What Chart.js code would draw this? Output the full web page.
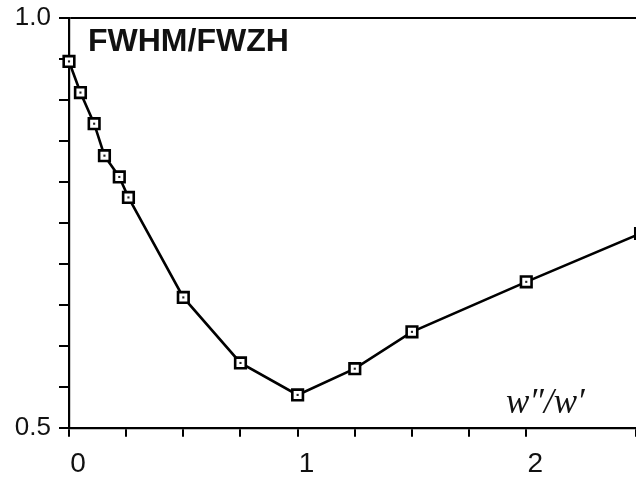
<!DOCTYPE html>
<html lang="en">
<head>
  <meta charset="UTF-8">
  <title>FWHM/FWZH vs w''/w'</title>
  <script src="https://cdn.jsdelivr.net/npm/chart.js"></script>
  <style>
    html, body { margin: 0; padding: 0; background: #fff; }
    #wrap { width: 636px; height: 479px; position: relative; }
  </style>
</head>
<body>
<div id="wrap">
  <canvas id="fwhmChart"></canvas>
</div>

<script>
  // values
  const ratioX = [0, 0.05, 0.11, 0.155, 0.22, 0.26, 0.5, 0.75, 1.0, 1.25, 1.5, 2.0, 2.5];
  const fwhmY = [0.947, 0.909, 0.871, 0.832, 0.806, 0.781, 0.659, 0.579, 0.540, 0.572, 0.617, 0.678, 0.737];
  const xLabelTicks = [0, 1, 2];
  const yLabelTicks = [0.5, 1.0];

  const points = ratioX.map((x, i) => ({ x: x, y: fwhmY[i] }));

  // text labels drawn inside the plot
  const textLabels = {
    id: 'textLabels',
    afterDraw(chart) {
      const c = chart.ctx;
      const area = chart.chartArea;
      c.save();
      c.fillStyle = '#111';
      c.textBaseline = 'alphabetic';
      c.textAlign = 'left';
      c.font = 'bold 32px "Liberation Sans", Arial, sans-serif';
      c.fillText('FWHM/FWZH', area.left + 19, area.top + 33);
      c.font = 'italic 35px "Liberation Serif", "Times New Roman", serif';
      c.fillText('w\u2033/w\u2032', 506, area.bottom - 15);
      c.restore();
    }
  };

  const ctx = document.getElementById('fwhmChart').getContext('2d');
  const fwhmChart = new Chart(ctx, {
    type: 'scatter',
    data: {
      datasets: [{
        label: 'FWHM/FWZH',
        data: points,
        order: 2,
        showLine: true,
        borderColor: '#000',
        borderWidth: 2.6,
        pointStyle: 'rect',
        pointRadius: 7.5,
        pointBorderWidth: 2.6,
        pointBorderColor: '#000',
        pointBackgroundColor: '#fff',
        clip: false
      }, {
        // small dot in the middle of every square marker
        label: 'centres',
        data: points,
        order: 1,
        showLine: false,
        pointStyle: 'rect',
        pointRadius: 1.5,
        pointBorderWidth: 0,
        pointBackgroundColor: '#222',
        clip: false
      }]
    },
    options: {
      responsive: true,
      maintainAspectRatio: false,
      animation: false,
      layout: { autoPadding: false, padding: { top: 18, right: 0, left: 0, bottom: 0 } },
      plugins: {
        legend: { display: false },
        tooltip: { enabled: false }
      },
      scales: {
        x: {
          type: 'linear',
          min: 0,
          max: 2.48,
          afterFit: scale => {
            scale.height = 51.3;
            scale.paddingLeft = 0;
            scale.paddingRight = 0;
          },
          border: { color: '#000', width: 2.2 },
          grid: {
            drawOnChartArea: false,
            tickLength: 9,
            tickColor: '#000',
            lineWidth: 2
          },
          ticks: {
            stepSize: 0.25,
            padding: 11,
            labelOffset: 9,
            color: '#111',
            font: { family: '"Liberation Sans", Arial, sans-serif', size: 28 },
            callback: v => xLabelTicks.includes(v) ? String(v) : ''
          }
        },
        y: {
          type: 'linear',
          min: 0.5,
          max: 1.0,
          afterFit: scale => {
            scale.width = 69;
            scale.paddingTop = 0;
            scale.paddingBottom = 0;
          },
          border: { color: '#000', width: 2.2 },
          grid: {
            drawOnChartArea: true,
            color: c => (c.tick && c.tick.value === 1) ? '#000' : 'rgba(0,0,0,0)',
            tickColor: '#000',
            lineWidth: 2,
            tickLength: 10
          },
          ticks: {
            stepSize: 0.05,
            padding: 8,
            color: '#111',
            font: { family: '"Liberation Sans", Arial, sans-serif', size: 26 },
            callback: v => yLabelTicks.some(t => Math.abs(t - v) < 1e-6) ? v.toFixed(1) : ''
          }
        }
      }
    },
    plugins: [textLabels]
  });
</script>
</body>
</html>
